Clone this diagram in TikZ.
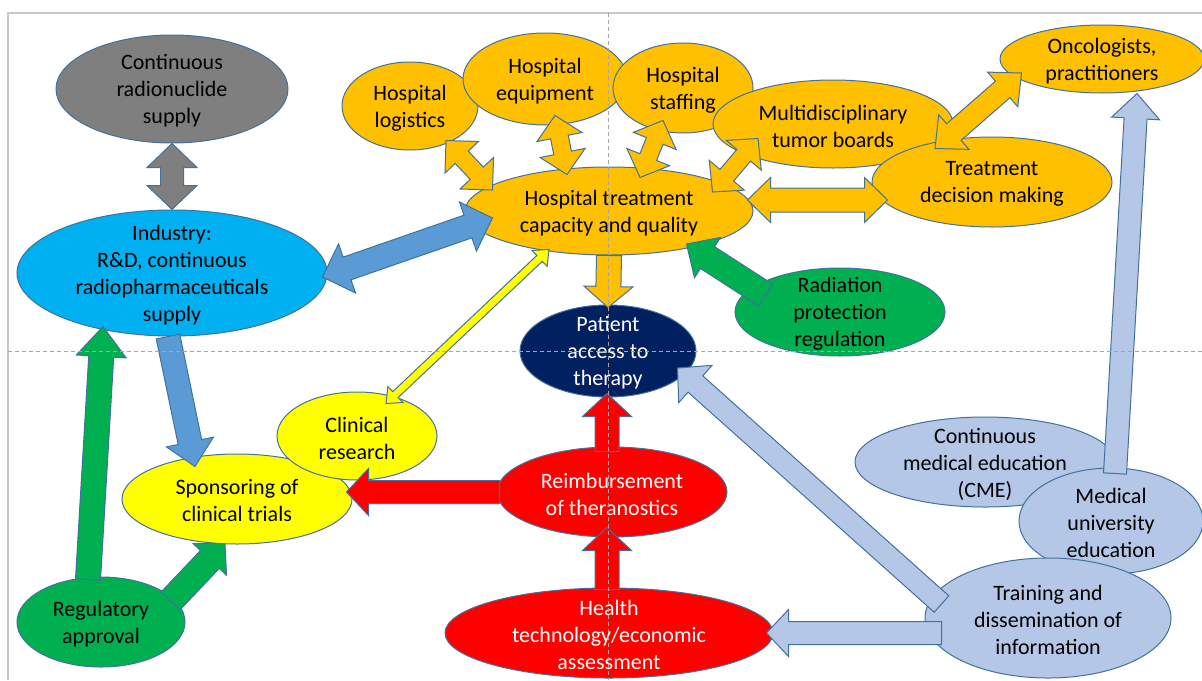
\documentclass[tikz,border=0pt]{standalone}
\usepackage{fontspec}
\setmainfont{Carlito}
\usetikzlibrary{shapes.geometric,calc}

\definecolor{edge}{HTML}{41719C}
\definecolor{gry}{HTML}{7F7F7F}
\definecolor{cyn}{HTML}{00B0F0}
\definecolor{orng}{HTML}{FFC000}
\definecolor{grn}{HTML}{00B050}
\definecolor{navy}{HTML}{002060}
\definecolor{yel}{HTML}{FFFF00}
\definecolor{rd}{HTML}{FF0000}
\definecolor{lblue}{HTML}{B4C7E7}
\definecolor{mblue}{HTML}{5B9BD5}
\definecolor{guidegray}{HTML}{A6A6A6}
\definecolor{framegray}{HTML}{C8C8C8}

% block arrow: style, tail, tip, half shaft, half head, head length
\newcommand{\onearrow}[6]{%
  \draw[#1] ($(#2)!#4!90:(#3)$) -- ($(#3)!#6!(#2)!#4!-90:(#2)$)
    -- ($(#3)!#6!(#2)!#5!-90:(#2)$) -- (#3)
    -- ($(#3)!#6!(#2)!#5!90:(#2)$) -- ($(#3)!#6!(#2)!#4!90:(#2)$)
    -- ($(#2)!#4!-90:(#3)$) -- cycle;}
% block arrow with two heads
\newcommand{\twoarrow}[6]{%
  \draw[#1] ($(#2)!#6!(#3)!#4!90:(#3)$) -- ($(#3)!#6!(#2)!#4!-90:(#2)$)
    -- ($(#3)!#6!(#2)!#5!-90:(#2)$) -- (#3)
    -- ($(#3)!#6!(#2)!#5!90:(#2)$) -- ($(#3)!#6!(#2)!#4!90:(#2)$)
    -- ($(#2)!#6!(#3)!#4!-90:(#3)$) -- ($(#2)!#6!(#3)!#5!-90:(#3)$)
    -- (#2) -- ($(#2)!#6!(#3)!#5!90:(#3)$) -- cycle;}

\begin{document}
\begin{tikzpicture}
[x=0.5pt,y=-0.5pt,%
  txt/.style={font=\fontsize{11}{13.5}\selectfont,align=center,inner sep=0pt,yshift=-1pt},%
  blob/.style n args={5}{ellipse,draw=edge,line width=0.5pt,inner sep=0pt,%
    fill=#1,minimum width=#2,minimum height=#3,label={[txt,text=#4]center:{#5}}},%
  arr/.style={draw=edge,line width=0.5pt},%
  guideline/.style={guidegray,line width=0.5pt,dash pattern=on 2pt off 1.5pt},%
  frameline/.style={framegray,line width=0.6pt}]
\clip (0,0) rectangle (1202,680);
\draw[frameline] (1202,13) -- (8,13) -- (8,680);

\node[blob={gry}{116pt}{54pt}{black}{Continuous\\radionuclide\\supply}] (radio) at (172,89) {};
\node[blob={cyn}{155pt}{63pt}{black}{Industry:\\R\&D, continuous\\radiopharmaceuticals\\supply}] (industry) at (172,273) {};
\node[blob={orng}{68pt}{44pt}{black}{Hospital\\logistics}] (logist) at (410,106) {};
\node[blob={orng}{82pt}{46pt}{black}{Hospital\\equipment}] (equip) at (545,79) {};
\node[blob={orng}{70pt}{45pt}{black}{Hospital\\staffing}] (staff) at (683,88) {};
\node[blob={orng}{120pt}{44pt}{black}{Multidisciplinary\\tumor boards}] (mdtb) at (833,124) {};
\node[blob={orng}{120pt}{45pt}{black}{Treatment\\decision making}] (decis) at (992,182) {};
\node[blob={orng}{102pt}{34pt}{black}{Oncologists,\\practitioners}] (onco) at (1102,59) {};
\node[blob={orng}{144pt}{44pt}{black}{Hospital treatment\\capacity and quality}] (hosp) at (609,211) {};
\node[blob={grn}{105pt}{44pt}{black}{Radiation\\protection\\regulation}] (radprot) at (840,312) {};
\node[blob={navy}{88pt}{46pt}{white}{Patient\\access to\\therapy}] (patient) at (608,351) {};
\node[blob={yel}{115pt}{45pt}{black}{Sponsoring of\\clinical trials}] (spons) at (237,499) {};
\node[blob={yel}{80pt}{44pt}{black}{Clinical\\research}] (clinres) at (357,436) {};
\node[blob={rd}{115pt}{45pt}{white}{Reimbursement\\of theranostics}] (reimb) at (612,492) {};
\node[blob={rd}{164pt}{45pt}{white}{Health\\technology/economic\\assessment}] (health) at (609,633) {};
\node[blob={grn}{84pt}{45pt}{black}{Regulatory\\approval}] (regul) at (101,622) {};
\node[blob={lblue}{130pt}{45pt}{black}{Continuous\\medical education\\(CME)}] (cme) at (985,462) {};
\node[blob={lblue}{92pt}{53pt}{black}{Medical\\university\\education}] (meduni) at (1111,521) {};
\node[blob={lblue}{123pt}{60pt}{black}{Training and\\dissemination of\\information}] (train) at (1048,618) {};

% arrow ends
\coordinate (ind-e) at ($(industry.east)+(-5,4)$);
\coordinate (hosp-w) at ($(hosp.west)+(28,7)$);
\coordinate (ind-s) at ($(industry.south)+(-4,0)$);
\coordinate (spons-n) at ($(spons.north)+(-42,13)$);
\coordinate (hosp-s) at ($(hosp.south)+(-60,-6)$);
\coordinate (clin-n) at ($(clinres.north)+(29,12)$);
\coordinate (pat-n) at ($(patient.north)+(0,3)$);
\coordinate (rad-w) at ($(radprot.west)+(31,-17)$);
\coordinate (hosp-se) at ($(hosp.east)+(-67,33)$);
\coordinate (hosp-e) at ($(hosp.east)+(-6,-11)$);
\coordinate (dec-w) at ($(decis.west)+(16,18)$);
\coordinate (dec-n) at ($(decis.north)+(-57,12)$);
\coordinate (onc-w) at ($(onco.west)+(22,14)$);
\coordinate (log-s) at ($(logist.south)+(36,-10)$);
\coordinate (hosp-nw) at ($(hosp.west)+(28,-21)$);
\coordinate (eq-s) at ($(equip.south)+(10,-10)$);
\coordinate (hosp-n1) at ($(hosp.north)+(-42,8)$);
\coordinate (st-s) at ($(staff.south)+(-20,-13)$);
\coordinate (hosp-n2) at ($(hosp.north)+(31,11)$);
\coordinate (md-s) at ($(mdtb.south)+(-75,-30)$);
\coordinate (hosp-ne) at ($(hosp.east)+(-41,-19)$);
\coordinate (uni-n) at ($(meduni.north)+(4,6)$);
\coordinate (onc-s) at ($(onco.south)+(35,0)$);
\coordinate (tr-w1) at ($(train.west)+(17,-14)$);
\coordinate (pat-e) at ($(patient.east)+(-19,17)$);
\coordinate (tr-w2) at ($(train.west)+(17,15)$);
\coordinate (hth-e) at ($(health.east)+(-7,0)$);
\coordinate (re-w) at ($(reimb.west)+(3,0)$);
\coordinate (spons-e) at ($(spons.east)+(-6,-7)$);
\coordinate (re-n) at ($(reimb.north)+(-5,5)$);
\coordinate (pat-s) at ($(patient.south)+(-1,-4)$);
\coordinate (hth-n) at ($(health.north)+(-2,2)$);
\coordinate (re-s) at ($(reimb.south)+(-5,-10)$);
\coordinate (reg-n) at ($(regul.north)+(-13,3)$);
\coordinate (ind-sw) at ($(industry.south)+(-69,-10)$);
\coordinate (reg-e) at ($(regul.east)+(-15,-21)$);
\coordinate (spons-s) at ($(spons.south)+(-12,-1)$);

\twoarrow{arr,fill=gry}{radio.south}{industry.north}{5.75pt}{12.5pt}{12pt}
\twoarrow{arr,fill=mblue}{ind-e}{hosp-w}{6pt}{13pt}{13pt}
\onearrow{arr,fill=mblue}{ind-s}{spons-n}{6pt}{12pt}{12.5pt}
\twoarrow{arr,fill=yel}{hosp-s}{clin-n}{2pt}{5.5pt}{6.5pt}
\onearrow{arr,fill=orng}{hosp.south}{pat-n}{6.25pt}{12.25pt}{10.5pt}
\onearrow{arr,fill=grn}{rad-w}{hosp-se}{6.5pt}{12pt}{12.5pt}
\twoarrow{arr,fill=orng}{hosp-e}{dec-w}{6pt}{11.25pt}{11.5pt}
\twoarrow{arr,fill=orng}{dec-n}{onc-w}{5.5pt}{11.5pt}{12.5pt}
\twoarrow{arr,fill=orng}{log-s}{hosp-nw}{4.5pt}{11.5pt}{11.5pt}
\twoarrow{arr,fill=orng}{eq-s}{hosp-n1}{4.5pt}{11.5pt}{11pt}
\twoarrow{arr,fill=orng}{st-s}{hosp-n2}{4.5pt}{11.5pt}{11pt}
\twoarrow{arr,fill=orng}{md-s}{hosp-ne}{4.5pt}{11.5pt}{11pt}
\onearrow{arr,fill=lblue}{uni-n}{onc-s}{5.75pt}{12pt}{12.5pt}
\onearrow{arr,fill=lblue}{tr-w1}{pat-e}{5.5pt}{12.5pt}{12pt}
\onearrow{arr,fill=lblue}{tr-w2}{hth-e}{5.75pt}{11.75pt}{11pt}
\onearrow{arr,fill=rd}{re-w}{spons-e}{5.75pt}{11.75pt}{11pt}
\onearrow{arr,fill=rd}{re-n}{pat-s}{6pt}{12.25pt}{11.5pt}
\onearrow{arr,fill=rd}{hth-n}{re-s}{6pt}{12.25pt}{11.5pt}
\onearrow{arr,fill=grn}{reg-n}{ind-sw}{6.25pt}{12.5pt}{15pt}
\onearrow{arr,fill=grn}{reg-e}{spons-s}{6.5pt}{11.5pt}{11pt}

% guides
\draw[guideline] (8,351) -- (1202,351);
\draw[guideline] (608,13) -- (608,680);
\end{tikzpicture}
\end{document}
